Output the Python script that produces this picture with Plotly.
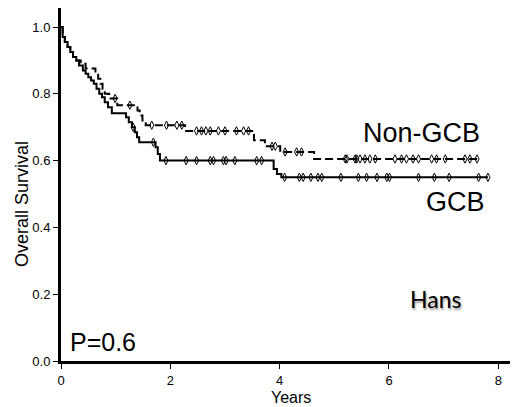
import plotly.graph_objects as go

# GCB (solid) Kaplan-Meier steps
gcb_t = [0, 0.03, 0.07, 0.12, 0.17, 0.22, 0.28, 0.33, 0.40, 0.45, 0.50, 0.55, 0.60, 0.65,
         0.70, 0.75, 0.80, 0.86, 0.93, 1.19, 1.24, 1.30, 1.35, 1.39, 1.43, 1.73, 1.77, 1.81,
         3.89, 3.95, 4.03, 7.81]
gcb_s = [1.0, 0.97, 0.955, 0.94, 0.925, 0.91, 0.90, 0.885, 0.87, 0.86, 0.85, 0.84, 0.83, 0.815,
         0.80, 0.79, 0.775, 0.76, 0.742, 0.73, 0.715, 0.70, 0.685, 0.67, 0.655, 0.64, 0.62, 0.60,
         0.575, 0.56, 0.55, 0.55]
gcb_cens_t = [1.32, 1.69, 1.92, 2.29, 2.48, 2.73, 2.79, 2.97, 3.02, 3.18, 3.58, 3.67,
              4.09, 4.36, 4.43, 4.57, 4.70, 4.77, 5.12, 5.44, 5.59, 5.78, 5.96, 6.01,
              6.54, 6.83, 7.10, 7.64, 7.81]
gcb_cens_s = [0.70, 0.655, 0.60, 0.60, 0.60, 0.60, 0.60, 0.60, 0.60, 0.60, 0.60, 0.60,
              0.55, 0.55, 0.55, 0.55, 0.55, 0.55, 0.55, 0.55, 0.55, 0.55, 0.55, 0.55,
              0.55, 0.55, 0.55, 0.55, 0.55]

# Non-GCB (dashed) Kaplan-Meier steps
ngcb_t = [0, 0.03, 0.07, 0.12, 0.17, 0.22, 0.28, 0.36, 0.45, 0.63, 0.68, 0.72, 0.76, 0.80,
          0.88, 1.03, 1.40, 1.44, 1.49, 1.55, 2.27, 3.53, 3.73, 4.01, 4.63, 7.67]
ngcb_s = [1.0, 0.97, 0.955, 0.94, 0.925, 0.91, 0.90, 0.89, 0.876, 0.86, 0.845, 0.83, 0.815, 0.80,
          0.786, 0.766, 0.75, 0.735, 0.72, 0.706, 0.689, 0.661, 0.643, 0.626, 0.605, 0.605]
ngcb_cens_t = [0.99, 1.26, 1.66, 1.93, 2.12, 2.21, 2.48, 2.57, 2.65, 2.73, 2.88, 3.00, 3.21,
               3.34, 3.43, 3.86, 3.92, 4.10, 4.31, 4.40, 5.20, 5.23, 5.38, 5.41, 5.47, 5.56,
               5.65, 5.75, 6.11, 6.23, 6.32, 6.44, 6.54, 6.78, 6.87, 7.03, 7.39, 7.48, 7.61]
ngcb_cens_s = [0.786, 0.766, 0.706, 0.706, 0.706, 0.706, 0.689, 0.689, 0.689, 0.689, 0.689,
               0.689, 0.689, 0.689, 0.689, 0.643, 0.643, 0.626, 0.626, 0.626, 0.605, 0.605,
               0.605, 0.605, 0.605, 0.605, 0.605, 0.605, 0.605, 0.605, 0.605, 0.605, 0.605,
               0.605, 0.605, 0.605, 0.605, 0.605, 0.605]

x_ticks = [0, 2, 4, 6, 8]
y_ticks = [0.0, 0.2, 0.4, 0.6, 0.8, 1.0]
y_tick_labels = ["0.0", "0.2", "0.4", "0.6", "0.8", "1.0"]

FONT = "Liberation Sans, Arial, sans-serif"

fig = go.Figure()
fig.add_trace(go.Scatter(x=ngcb_t, y=ngcb_s, mode="lines", line_shape="hv",
                         line=dict(color="black", width=2, dash="8px,4px"), showlegend=False))
fig.add_trace(go.Scatter(x=gcb_t, y=gcb_s, mode="lines", line_shape="hv",
                         line=dict(color="black", width=2), showlegend=False))
marker = dict(symbol="diamond-tall-open", size=6, color="black", line=dict(width=1, color="black"))
fig.add_trace(go.Scatter(x=ngcb_cens_t, y=ngcb_cens_s, mode="markers", marker=marker, showlegend=False))
fig.add_trace(go.Scatter(x=gcb_cens_t, y=gcb_cens_s, mode="markers", marker=marker, showlegend=False))

# the page body has an 8px margin, so the figure is drawn 8px smaller to fit the window
fig.update_layout(
    width=510, height=399,
    margin=dict(l=53, r=0, t=0, b=46),
    plot_bgcolor="white", paper_bgcolor="white",
    font=dict(family=FONT, color="black", size=13),
    xaxis=dict(range=[0, 8.36], tickvals=x_ticks, showgrid=False, zeroline=False,
               showline=True, linecolor="black", linewidth=3, ticks="outside",
               ticklen=5, tickwidth=1, tickcolor="black", tickfont=dict(size=13)),
    yaxis=dict(range=[0, 1.057], tickvals=y_ticks, ticktext=y_tick_labels, showgrid=False,
               zeroline=False, showline=True, linecolor="black", linewidth=3,
               ticks="outside", ticklen=5, tickwidth=1, tickcolor="black",
               tickfont=dict(size=13)),
    annotations=[
        dict(text="Overall Survival", xref="paper", yref="paper", x=-0.085, y=0.445,
             textangle=-90, showarrow=False, font=dict(size=18), xanchor="center", yanchor="middle"),
        dict(text="Years", xref="paper", yref="paper", x=0.503, y=-0.104,
             showarrow=False, font=dict(size=16), xanchor="center", yanchor="middle"),
        dict(text="Non-GCB", x=6.59, y=0.682, showarrow=False, font=dict(size=27),
             xanchor="center", yanchor="middle"),
        dict(text="GCB", x=7.21, y=0.476, showarrow=False, font=dict(size=27),
             xanchor="center", yanchor="middle"),
        dict(text="Hans", x=6.85, y=0.185, showarrow=False,
             font=dict(size=23, family="Lato, Noto Sans, sans-serif", shadow="1px 2px 2px #999"),
             xanchor="center", yanchor="middle"),
        dict(text="P=0.6", x=0.77, y=0.056, showarrow=False, font=dict(size=25),
             xanchor="center", yanchor="middle"),
    ],
)

fig.write_html("out.html")
